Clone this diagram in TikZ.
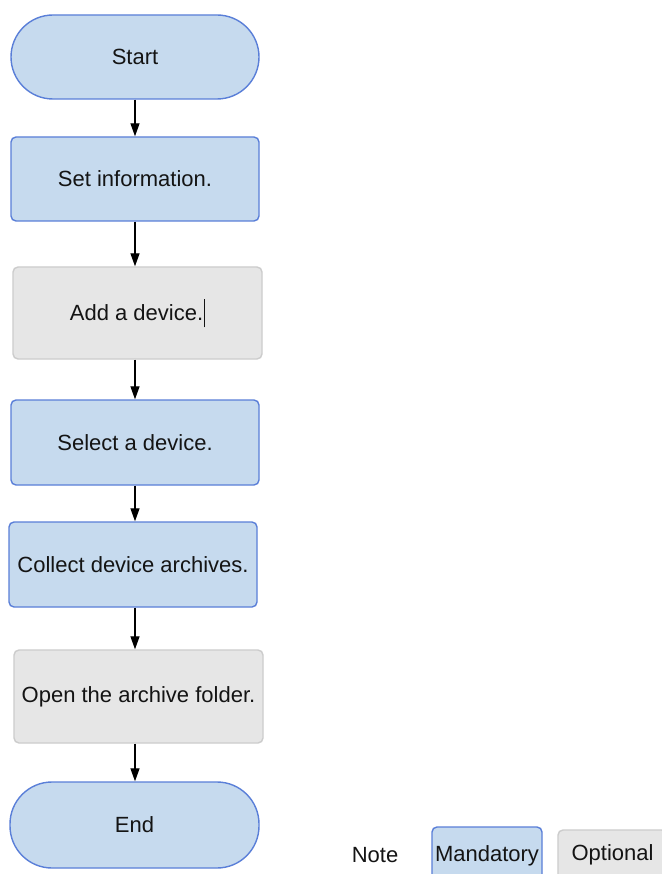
\documentclass[tikz,border=0pt]{standalone}
\usepackage{fontspec}
\setmainfont{Liberation Sans}
\usetikzlibrary{arrows.meta}
\definecolor{mandfill}{HTML}{C6DAEE}
\definecolor{manddraw}{HTML}{5A7FD8}
\definecolor{optfill}{HTML}{E6E6E6}
\definecolor{optdraw}{HTML}{CCCCCC}
\definecolor{txt}{HTML}{141414}
\tikzset{
  base/.style={draw, line width=1.4pt, inner sep=0pt, align=center, text=txt,
    font=\fontsize{22}{26}\selectfont},
  mand/.style={base, fill=mandfill, draw=manddraw, rounded corners=5pt},
  opt/.style={base, fill=optfill, draw=optdraw, rounded corners=5pt},
  term/.style={base, fill=mandfill, draw=manddraw, rounded corners=42pt},
  arr/.style={line width=1.3pt, -{Triangle[length=13pt,width=9pt]}},
}
\begin{document}
\begin{tikzpicture}[x=1pt, y=-1pt]
\useasboundingbox (0,0) rectangle (661,874);
\fill[white] (0,0) rectangle (661,874);
\coordinate (axis) at (135,0);

\node[term, minimum width=248pt, minimum height=84pt] (start) at (135,57) {Start};
\node[mand, minimum width=248pt, minimum height=84pt] (setinfo) at (135,179) {Set information.};
\node[opt, minimum width=249pt, minimum height=92pt] (add) at (137.5,313)
  {Add a device.\hspace{1pt}\rule[-0.3em]{0.9pt}{1.3em}};
\node[mand, minimum width=248pt, minimum height=85pt] (select) at (135,442.5) {Select a device.};
\node[mand, minimum width=248pt, minimum height=85pt] (collect) at (133,564.5) {Collect device archives.};
\node[opt, minimum width=249pt, minimum height=93pt] (open) at (138.5,696.5) {Open the archive folder.};
\node[term, minimum width=249pt, minimum height=86pt] (end) at (134.5,825) {End};

\draw[arr] (start.south -| axis) -- (setinfo.north -| axis);
\draw[arr] (setinfo.south -| axis) -- (add.north -| axis);
\draw[arr] (add.south -| axis) -- (select.north -| axis);
\draw[arr] (select.south -| axis) -- (collect.north -| axis);
\draw[arr] (collect.south -| axis) -- (open.north -| axis);
\draw[arr] (open.south -| axis) -- (end.north -| axis);

% legend
\node[base, draw=none] (note) at (375,855) {Note};
\node[mand, minimum width=110pt, minimum height=57pt] (lmand) at (487,855.5) {};
\node[base, draw=none] (lmandtxt) at (lmand.center) {Mandatory};
\node[opt, minimum width=109pt, minimum height=54pt] (lopt) at (612.5,857) {};
\node[base, draw=none] (lopttxt) at (612.5,855) {Optional};
\end{tikzpicture}
\end{document}
